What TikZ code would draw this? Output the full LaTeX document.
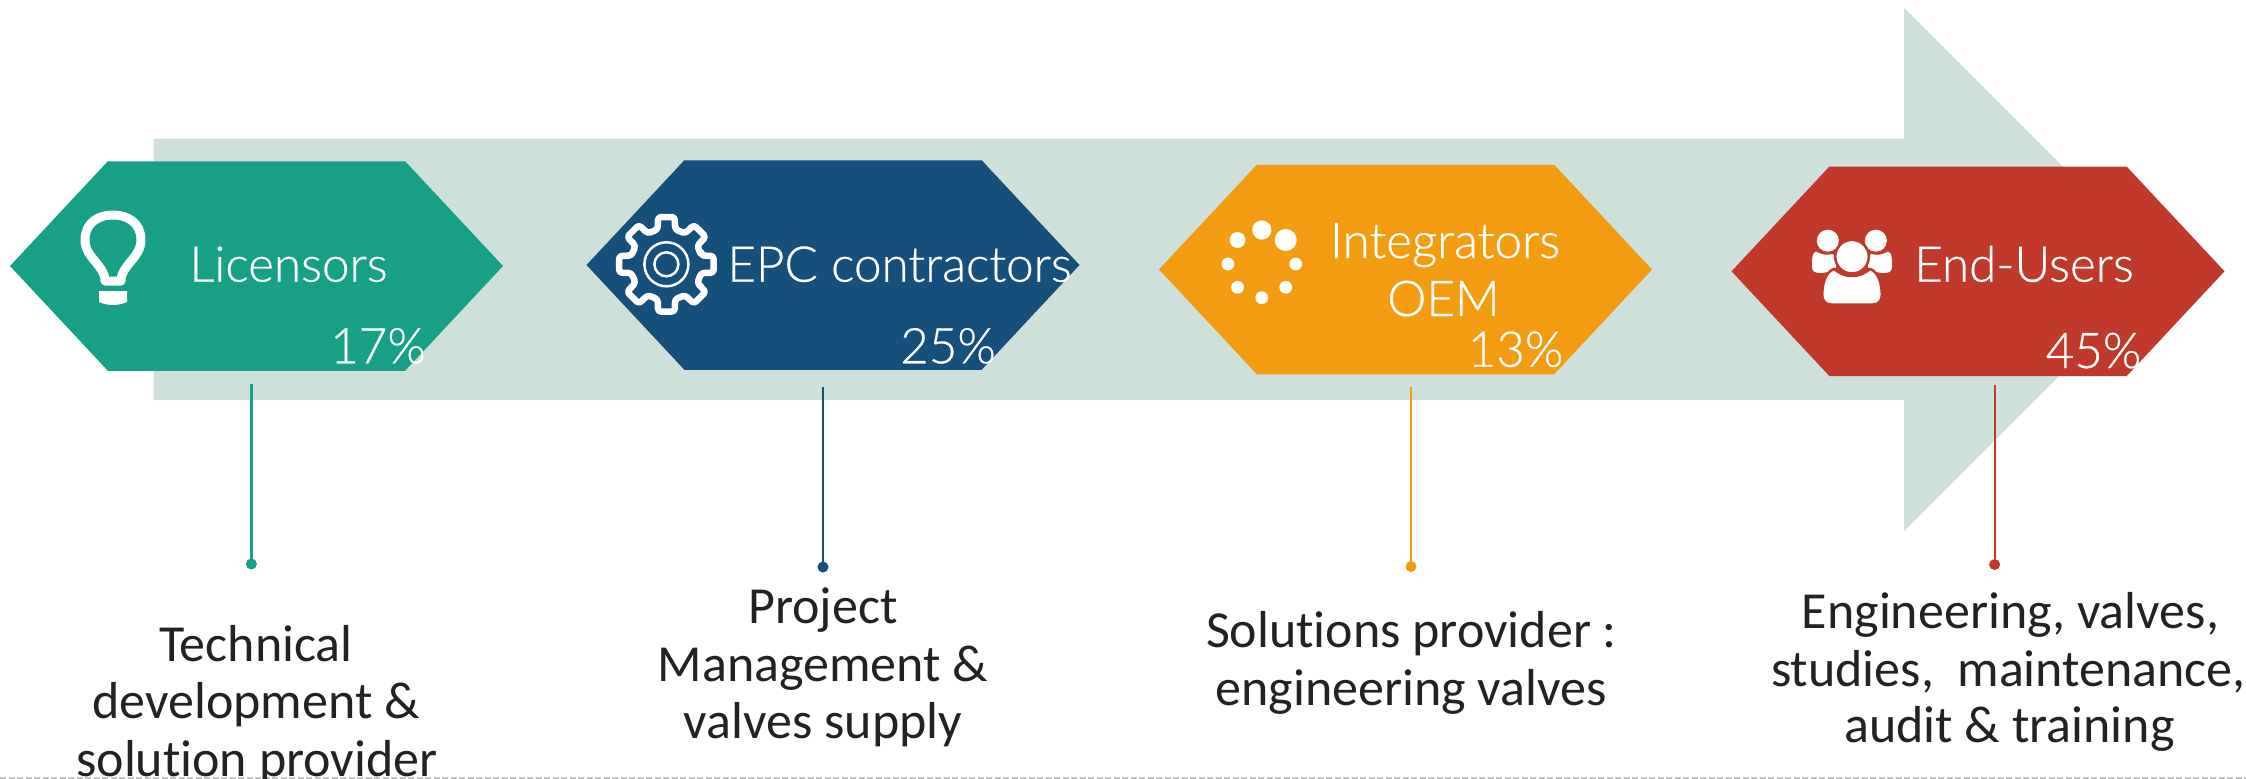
\documentclass[tikz,border=0pt]{standalone}
\usepackage{fontspec}
\setmainfont[Ligatures=NoCommon]{Carlito}
\newfontfamily\lightf[FakeBold=0.5]{Lato Light}
\usetikzlibrary{shapes.symbols}
\definecolor{teal1}{HTML}{17A085}
\definecolor{blue1}{HTML}{154F7B}
\definecolor{orange1}{HTML}{F39C12}
\definecolor{red1}{HTML}{C0392B}
\definecolor{band}{HTML}{CDE0DA}
\definecolor{ink}{HTML}{222222}
\tikzset{
  x=1pt,y=-1pt,
  hexa/.style={signal,signal to=east and west,signal pointer angle=93.9,draw=none,fill=#1,
    minimum width=493pt,minimum height=209.5pt,inner sep=0pt,outer sep=0pt},
  title/.style={text=white,anchor=base,inner sep=0pt,font=\lightf\fontsize{49.3}{49.3}\selectfont},
  pct/.style={text=white,anchor=base,inner sep=0pt,font=\lightf\fontsize{49.3}{49.3}\selectfont},
  desc/.style={text=ink,anchor=base,inner sep=0pt,font=\fontsize{52}{52}\selectfont},
  dotn/.style={circle,fill=#1,draw=none,minimum size=11pt,inner sep=0pt,outer sep=0pt},
  stem/.style={draw=#1,line width=2.2pt},
  iconw/.style={fill=white,draw=none},
}
\begin{document}
\begin{tikzpicture}
\useasboundingbox (0,0) rectangle (2246,779);
% big arrow
\fill[band] (153.6,138.7) -- (1904,138.7) -- (1904,8) -- (2165.5,269.5) -- (1904,531) -- (1904,400) -- (153.6,400) -- cycle;
% dashed rule
\coordinate (ruleL) at (0,777.5);
\coordinate (ruleR) at (2246,777.5);
\draw[draw=black!24,line width=2pt,dash pattern=on 6pt off 2.5pt] (ruleL) -- (ruleR);
% hexagons
\node[hexa=teal1] (h1) at (256.5,266) {};
\node[hexa=blue1] (h2) at (833,265) {};
\node[hexa=orange1] (h3) at (1405.5,269.5) {};
\node[hexa=red1] (h4) at (1978,271.3) {};
% stems
\coordinate (s1) at (251.4,384);
\coordinate (s2) at (823,387);
\coordinate (s3) at (1411,387);
\coordinate (s4) at (1994.6,385);
\node[dotn=teal1] (d1) at (251.4,564) {};
\node[dotn=blue1] (d2) at (823,567) {};
\node[dotn=orange1] (d3) at (1411,566.5) {};
\node[dotn=red1] (d4) at (1994.6,564.5) {};
\draw[stem=teal1] (s1) -- (d1);
\draw[stem=blue1] (s2) -- (d2);
\draw[stem=orange1] (s3) -- (d3);
\draw[stem=red1] (s4) -- (d4);
% titles
\node[title] (t1) at (288.5,281.7) {Licensors};
\node[title] (t2) at (899.5,281.7) {EPC contractors};
\node[title] (t3a) at (1445,258) {Integrators};
\node[title] (t3b) at (1443.5,316) {OEM};
\node[title] (t4) at (2024,281.7) {End-Users};
% percentages
\node[pct] (p1) at (378,363.3) {17\%};
\node[pct] (p2) at (948,363.3) {25\%};
\node[pct] (p3) at (1515.5,366.7) {13\%};
\node[pct] (p4) at (2093.5,368) {45\%};
% descriptions
\node[desc] (a1) at (256,661) {Technical};
\node[desc] (a2) at (256,718.5) {development \&};
\node[desc] (a3) at (257,776) {solution provider};
\node[desc] (b1) at (823,623.5) {Project};
\node[desc] (b2) at (823,681.7) {Management \&};
\node[desc] (b3) at (823,738.5) {valves supply};
\node[desc] (c1) at (1411.5,647.5) {Solutions provider :};
\node[desc] (c2) at (1411,705) {engineering valves};
\node[desc] (e1) at (2010.4,628) {Engineering, valves,};
\node[desc] (e2) at (2008.5,686) {studies,\ \ maintenance,};
\node[desc] (e3) at (2009.5,742.7) {audit \& training};
% bulb icon
\draw[white,line width=9pt,line join=round] (105,281) .. controls (105,265) and (85,258) .. (85,240) .. controls (85,223) and (98,215) .. (113,215) .. controls (128,215) and (141,223) .. (141,240) .. controls (141,258) and (121,265) .. (121,281) -- cycle;
\fill[iconw] (99,291) -- (127,291) -- (127,302) .. controls (118,306) and (108,306) .. (99,302) -- cycle;
% gear icon
\begin{scope}[shift={(666.4,264.3)}]
\draw[white,line width=6.5pt,line join=round,rounded corners=3pt]
  (-14:36) \foreach \a in {0,45,...,315} { -- (\a-14:36) -- (\a-10:48) -- (\a+10:48) -- (\a+14:36) } -- cycle;
\draw[white,line width=2.5pt] (0,0) circle[radius=22];
\draw[white,line width=2.5pt] (0,0) circle[radius=12];
\end{scope}
% spinner icon
\fill[white] (1261.8,230) circle[radius=9.6];
\fill[white] (1285.7,240) circle[radius=11];
\fill[white] (1295.7,264) circle[radius=6.4];
\fill[white] (1285.7,287.3) circle[radius=6.4];
\fill[white] (1261.8,297.7) circle[radius=6.4];
\fill[white] (1237.5,287.3) circle[radius=6.4];
\fill[white] (1227.9,264) circle[radius=6.4];
\fill[white] (1237.5,240) circle[radius=8];
% users icon
\fill[white] (1827.8,240.7) circle[radius=11];
\fill[white] (1875.8,240.7) circle[radius=11];
\fill[white] (1816,251.5) .. controls (1820,254) and (1826,256) .. (1833,254) -- (1838,262) -- (1834,271) .. controls (1828,272) and (1824,273) .. (1820,273) .. controls (1814,273) and (1812,271) .. (1812,266) .. controls (1812,258) and (1812,253) .. (1816,251.5) -- cycle;
\fill[white] (1888,251.5) .. controls (1884,254) and (1878,256) .. (1871,254) -- (1866,262) -- (1870,271) .. controls (1876,272) and (1880,273) .. (1884,273) .. controls (1890,273) and (1892,271) .. (1892,266) .. controls (1892,258) and (1892,253) .. (1888,251.5) -- cycle;
\filldraw[fill=white,draw=red1,line width=2.5pt] (1852,256.7) circle[radius=16.8];
\filldraw[fill=white,draw=red1,line width=2.5pt] (1831,304.5) -- (1873,304.5) .. controls (1879,304.5) and (1881.8,300) .. (1881.8,295) .. controls (1881.8,285) and (1879,272) .. (1870,269) .. controls (1865,273) and (1860,276) .. (1852,276) .. controls (1844,276) and (1839,273) .. (1834,269) .. controls (1825,272) and (1822.2,285) .. (1822.2,295) .. controls (1822.2,300) and (1825,304.5) .. (1831,304.5) -- cycle;
\end{tikzpicture}
\end{document}
